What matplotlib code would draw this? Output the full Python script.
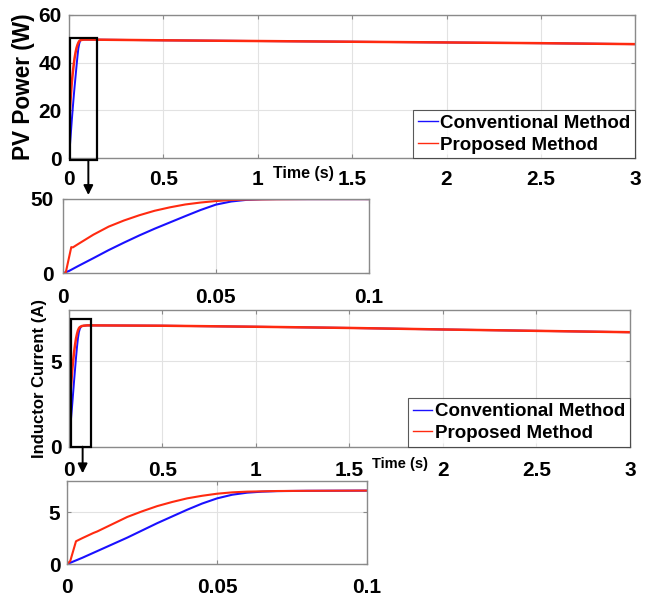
import matplotlib
matplotlib.use("Agg")
import matplotlib.pyplot as plt
from matplotlib.patches import Rectangle

plt.rcParams["font.family"] = ["Liberation Sans", "DejaVu Sans"]
plt.rcParams["font.weight"] = "bold"

W, H = 652, 597
BLUE = "#1a10ff"
RED = "#ff2a10"
SPINE = "#8a8a8a"
GRIDC = "#e2e2e2"

# --- data ---
# PV power, start-up transient (0 .. 0.1 s)
t_conv_p = [0, 0.002, 0.005, 0.01, 0.015, 0.02, 0.025, 0.03, 0.035, 0.04,
            0.045, 0.05, 0.055, 0.06, 0.065, 0.07, 0.08, 0.1]
p_conv = [0, 1.5, 4.8, 10.1, 15.5, 20.5, 25.3, 29.8, 34.0, 38.2,
          42.3, 45.9, 48.0, 49.1, 49.5, 49.6, 49.6, 49.6]
t_prop_p = [0, 0.001, 0.0028, 0.0033, 0.005, 0.01, 0.015, 0.02, 0.025, 0.03,
            0.035, 0.04, 0.045, 0.05, 0.055, 0.06, 0.07, 0.08, 0.1]
p_prop = [0, 0.5, 17.5, 17.3, 19.5, 25.8, 31.2, 35.3, 38.8, 41.8,
          44.1, 46.0, 47.3, 48.3, 49.0, 49.3, 49.5, 49.6, 49.6]
# PV power, slow drift afterwards (both methods overlap)
t_tail = [0.5, 1.0, 1.5, 2.0, 2.5, 3.0]
p_tail = [49.3, 49.0, 48.7, 48.4, 48.1, 47.7]

# Inductor current, start-up transient (0 .. 0.1 s)
t_conv_i = [0, 0.005, 0.01, 0.015, 0.02, 0.025, 0.03, 0.035, 0.04, 0.045,
            0.05, 0.055, 0.06, 0.065, 0.07, 0.08, 0.1]
i_conv = [0, 0.6, 1.25, 1.9, 2.55, 3.25, 3.95, 4.6, 5.25, 5.85,
          6.35, 6.7, 6.9, 7.0, 7.05, 7.08, 7.1]
t_prop_i = [0, 0.001, 0.0029, 0.005, 0.0087, 0.01, 0.015, 0.02, 0.025, 0.03,
            0.035, 0.04, 0.045, 0.05, 0.055, 0.06, 0.07, 0.08, 0.1]
i_prop = [0, 0.3, 2.2, 2.5, 3.0, 3.15, 3.85, 4.55, 5.1, 5.6,
          6.0, 6.35, 6.6, 6.8, 6.93, 7.0, 7.06, 7.08, 7.1]
i_tail = [7.08, 7.02, 6.95, 6.86, 6.78, 6.7]

main_ticks = [0, 0.5, 1, 1.5, 2, 2.5, 3]
main_ticklabels = ["0", "0.5", "1", "1.5", "2", "2.5", "3"]
zoom_ticks = [0, 0.05, 0.1]
zoom_ticklabels = ["0", "0.05", "0.1"]
labels = ["Conventional Method", "Proposed Method"]


def px_axes(fig, x0, y0, x1, y1):
    return fig.add_axes([x0 / W, 1 - y1 / H, (x1 - x0) / W, (y1 - y0) / H])


def style(ax, xpad, ypad):
    for s in ax.spines.values():
        s.set_color(SPINE)
        s.set_linewidth(1.0)
    ax.grid(True, color=GRIDC, lw=0.8)
    ax.set_axisbelow(True)
    ax.tick_params(direction="in", length=3, color=SPINE, labelsize=15,
                   top=True, right=True)
    ax.tick_params(axis="x", pad=xpad)
    ax.tick_params(axis="y", pad=ypad)


def add_legend(ax):
    leg = ax.legend(loc="lower right", bbox_to_anchor=(1.0, 0.0), borderaxespad=0,
                    frameon=True, fancybox=False, handlelength=1.05,
                    handletextpad=0.15, borderpad=0.25, labelspacing=0.25,
                    prop={"weight": "bold", "size": 13.5})
    leg.get_frame().set_edgecolor("#303030")
    leg.get_frame().set_linewidth(0.8)
    for ln in leg.get_lines():
        ln.set_linewidth(1.0)


fig = plt.figure(figsize=(W / 100, H / 100), dpi=100)
fig.patch.set_facecolor("white")

ax1 = px_axes(fig, 68.9, 14.7, 635.3, 158.3)
ax2 = px_axes(fig, 62.7, 198.5, 369, 273.3)
ax3 = px_axes(fig, 68.6, 310, 630, 446.7)
ax4 = px_axes(fig, 67.3, 481.3, 367, 564)

# main power
ax1.plot(t_conv_p + t_tail, p_conv + p_tail, color=BLUE, lw=1.4, label=labels[0])
ax1.plot(t_prop_p + t_tail, p_prop + p_tail, color=RED, lw=1.8, label=labels[1])
ax1.set_xlim(0, 3)
ax1.set_ylim(0, 60)
ax1.set_yticks([0, 20, 40, 60])
ax1.set_xticks(main_ticks)
ax1.set_xticklabels(main_ticklabels)
style(ax1, 8.5, 5)
ax1.set_ylabel("PV Power (W)", fontsize=16.3, fontweight="bold", va="center")
ax1.yaxis.set_label_coords(-0.0793, 0.5)
ax1.set_xlabel("Time (s)", fontsize=11.5, fontweight="bold", va="center")
ax1.xaxis.set_label_coords(0.4133, -0.1024)
add_legend(ax1)
ax1.add_patch(Rectangle((0.006, -0.7), 0.141, 50.8, fill=False, ec="black",
                        lw=1.6, clip_on=False, zorder=5))
ax1.annotate("", xy=(0.103, 1 - 195 / H), xycoords=("data", "figure fraction"),
             xytext=(0.103, -0.7), textcoords="data", annotation_clip=False,
             arrowprops=dict(arrowstyle="-|>", color="black", lw=1.4,
                             mutation_scale=14, shrinkA=0, shrinkB=0))

# power zoom
ax2.plot(t_conv_p, p_conv, color=BLUE, lw=1.5)
ax2.plot(t_prop_p, p_prop, color=RED, lw=1.5)
ax2.set_xlim(0, 0.1)
ax2.set_ylim(0, 50)
ax2.set_yticks([0, 50])
ax2.set_xticks(zoom_ticks)
ax2.set_xticklabels(zoom_ticklabels)
style(ax2, 10.5, 6.5)

# main current
ax3.plot(t_conv_i + t_tail, i_conv + i_tail, color=BLUE, lw=1.4, label=labels[0])
ax3.plot(t_prop_i + t_tail, i_prop + i_tail, color=RED, lw=1.8, label=labels[1])
ax3.set_xlim(0, 3)
ax3.set_ylim(0, 8)
ax3.set_yticks([0, 5])
ax3.set_xticks(main_ticks)
ax3.set_xticklabels(main_ticklabels)
style(ax3, 10.5, 5)
ax3.set_ylabel("Inductor Current (A)", fontsize=12, fontweight="bold", va="center")
ax3.yaxis.set_label_coords(-0.0527, 0.5)
ax3.set_xlabel("Time (s)", fontsize=10.5, fontweight="bold", va="center")
ax3.xaxis.set_label_coords(0.5912, -0.1266)
add_legend(ax3)
ax3.add_patch(Rectangle((0.011, 0), 0.109, 7.5, fill=False, ec="black",
                        lw=1.6, clip_on=False, zorder=5))
ax3.annotate("", xy=(0.075, 1 - 473.3 / H), xycoords=("data", "figure fraction"),
             xytext=(0.075, 0), textcoords="data", annotation_clip=False,
             arrowprops=dict(arrowstyle="-|>", color="black", lw=1.4,
                             mutation_scale=14, shrinkA=0, shrinkB=0))

# current zoom
ax4.plot(t_conv_i, i_conv, color=BLUE, lw=1.5)
ax4.plot(t_prop_i, i_prop, color=RED, lw=1.5)
ax4.set_xlim(0, 0.1)
ax4.set_ylim(0, 8)
ax4.set_yticks([0, 5])
ax4.set_xticks(zoom_ticks)
ax4.set_xticklabels(zoom_ticklabels)
style(ax4, 10, 5)

fig.savefig("out.png", dpi=100, facecolor="white")
